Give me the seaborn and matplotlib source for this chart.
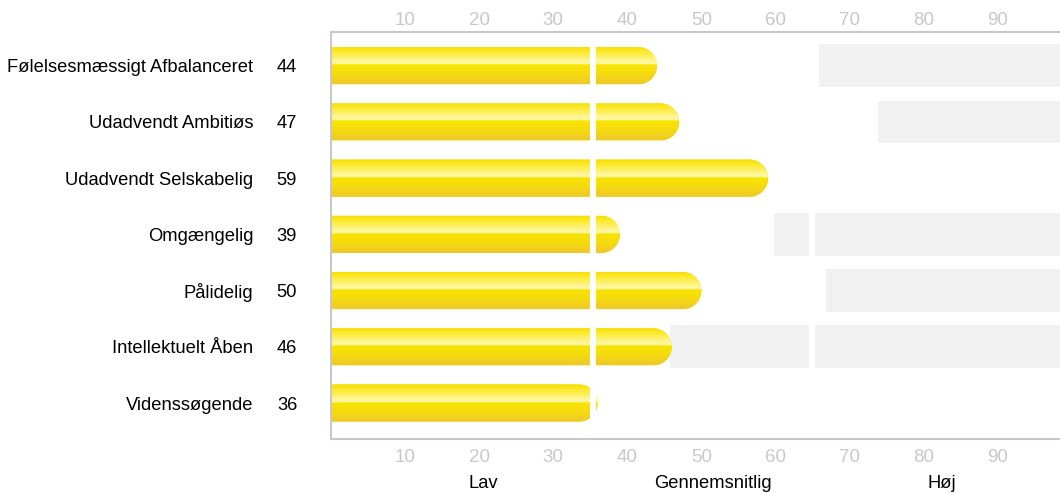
# personality profile bars, Danish labels

import numpy as np
import pandas as pd
import matplotlib
matplotlib.use('Agg')
import matplotlib.pyplot as plt
import matplotlib.transforms as mtransforms
from matplotlib.path import Path
from matplotlib.patches import PathPatch
from matplotlib.colors import LinearSegmentedColormap
import seaborn as sns

traits = ['Følelsesmæssigt Afbalanceret', 'Udadvendt Ambitiøs', 'Udadvendt Selskabelig',
          'Omgængelig', 'Pålidelig', 'Intellektuelt Åben', 'Videnssøgende']
scores = [44, 47, 59, 39, 50, 46, 36]
# where the grey band starts on each row (nan = no band)
band_start = [65.9, 73.9, np.nan, 59.8, 66.8, 45.7, np.nan]
band_end = 100
zones = ['Lav', 'Gennemsnitlig', 'Høj']
zone_centres = [20.5, 51.5, 82.5]
ticks = [10, 20, 30, 40, 50, 60, 70, 80, 90]
cuts = [35.3, 64.9]

sns.set_style('white')
plt.rcParams['font.family'] = ['Liberation Sans', 'DejaVu Sans']
plt.rcParams['text.color'] = 'black'
plt.rcParams['ytick.labelcolor'] = 'black'

W, H, DPI = 10.6, 4.93, 100
fig = plt.figure(figsize=(W, H), dpi=DPI)
ax = fig.add_axes([331 / 1060, 1 - 439 / 493, 1 - 331 / 1060, (439 - 32) / 493])

xlim = (0, 98.4)
ylim = (6.64, -0.6)

df = pd.DataFrame({'trait': traits, 'score': scores})

# grey bands behind
for i, s in enumerate(band_start):
    if np.isnan(s):
        continue
    ax.barh(i, band_end - s, left=s, height=0.76, color='#f1f1f1', zorder=0.5, linewidth=0)

sns.barplot(data=df, x='score', y='trait', orient='h', color='#f8e000',
            width=0.66, linewidth=0, ax=ax, zorder=2)

ax.set_xlim(*xlim)
ax.set_ylim(*ylim)

# px per data unit, to get round caps
ax_w = (1 - 331 / 1060) * W * DPI
ax_h = (439 - 32) / 493 * H * DPI
sx = ax_w / (xlim[1] - xlim[0])
sy = ax_h / abs(ylim[0] - ylim[1])

grad = LinearSegmentedColormap.from_list('bar', [
    (0.0, '#f6dc00'), (0.12, '#fbe821'), (0.42, '#fff7a0'),
    (0.47, '#fff8aa'), (0.49, '#f8e400'), (0.75, '#f4da10'), (1.0, '#eec72b')])
gimg = np.linspace(0, 1, 200).reshape(-1, 1)

for p in list(ax.patches):
    if p.get_facecolor()[:3] == matplotlib.colors.to_rgb('#f1f1f1'):
        continue
    x0, y0 = p.get_x(), p.get_y()
    w, h = p.get_width(), p.get_height()
    x1 = x0 + w
    ry = h / 2
    rx = ry * sy / sx
    xc = x1 - rx
    t = np.linspace(-np.pi / 2, np.pi / 2, 40)
    arc = np.column_stack([xc + rx * np.cos(t), y0 + ry + ry * np.sin(t)])
    verts = [(x0, y0), (xc, y0)] + arc.tolist() + [(x0, y0 + h), (x0, y0)]
    codes = [Path.MOVETO] + [Path.LINETO] * (len(verts) - 2) + [Path.CLOSEPOLY]
    p.remove()
    shape = PathPatch(Path(verts, codes), facecolor='#f8e000', edgecolor='none', zorder=2)
    ax.add_patch(shape)
    im = ax.imshow(gimg, cmap=grad, extent=[x0, x1, y0 + h, y0], aspect='auto',
                   origin='upper', zorder=2.1, interpolation='bilinear')
    im.set_clip_path(shape)

ax.set_xlim(*xlim)
ax.set_ylim(*ylim)

# white gaps between zones
ax.vlines(cuts, -0.5, 6.5, color='white', linewidth=4.4, zorder=3)

# spines
for side in ['left', 'top', 'bottom']:
    ax.spines[side].set_color('#c8c8c8')
    ax.spines[side].set_linewidth(1.5)
ax.spines['right'].set_visible(False)

ax.set_xticks(ticks)
ax.set_xticklabels([str(t) for t in ticks])
ax.tick_params(axis='x', length=0, pad=7, labelsize=13.5, labelcolor='#c8c8c8')
top = ax.secondary_xaxis('top')
top.set_xticks(ticks)
top.set_xticklabels([str(t) for t in ticks])
top.tick_params(axis='x', length=0, pad=2, labelsize=13.5, labelcolor='#c8c8c8')
top.spines['top'].set_visible(False)

ax.set_yticks(range(len(traits)))
ax.set_yticklabels(traits, va='center_baseline')
ax.tick_params(axis='y', length=0, pad=56, labelsize=13.2, labelcolor='black')
ax.set_xlabel('')
ax.set_ylabel('')

# score numbers next to the labels
tr = mtransforms.blended_transform_factory(fig.transFigure, ax.transData)
for i, s in enumerate(scores):
    ax.text(287 / 1060, i, str(s), transform=tr, ha='center', va='center_baseline',
            fontsize=13.2, color='black')

for name, xc in zip(zones, zone_centres):
    ax.text(xc, 1 - 483 / 493, name,
            transform=mtransforms.blended_transform_factory(ax.transData, fig.transFigure),
            ha='center', va='center', fontsize=13.2, color='black')

fig.savefig('out.png', dpi=DPI)
